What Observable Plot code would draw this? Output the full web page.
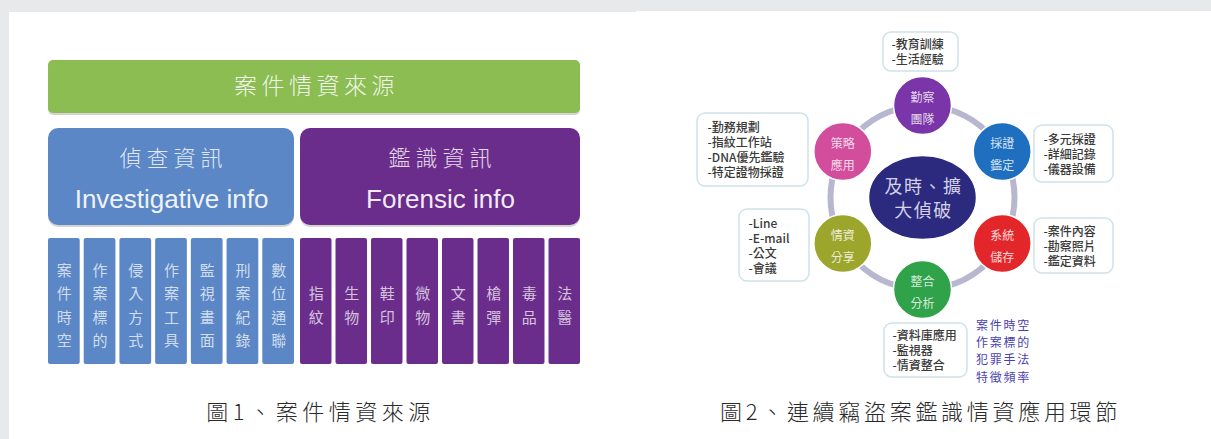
<!DOCTYPE html>
<html><head><meta charset="utf-8">
<script src="https://cdn.jsdelivr.net/npm/d3@7"></script>
<script src="https://cdn.jsdelivr.net/npm/@observablehq/plot@0.6"></script>
<style>
html,body{margin:0;padding:0;background:#e8e9eb;}
#chart svg{display:block;}
</style></head>
<body><div id="chart"></div>
<script>
// ---------- data ----------
const topTitle = ["案件情資來源"];
const groupZh = ["偵查資訊", "鑑識資訊"];
const groupEn = ["Investigative info", "Forensic info"];
const invItems = ["案件時空","作案標的","侵入方式","作案工具","監視畫面","刑案紀錄","數位通聯"];
const forItems = ["指紋","生物","鞋印","微物","文書","槍彈","毒品","法醫"];
const captions = ["圖1、案件情資來源", "圖2、連續竊盜案鑑識情資應用環節"];
const centerText = ["及時、擴\n大偵破"];
const nodes = ["勤察\n團隊","採證\n鑑定","系統\n儲存","整合\n分析","情資\n分享","策略\n應用"];
const nodeNotes = [
  ["-教育訓練","-生活經驗"],
  ["-多元採證","-詳細記錄","-儀器設備"],
  ["-案件內容","-勘察照片","-鑑定資料"],
  ["-資料庫應用","-監視器","-情資整合"],
  ["-Line","-E-mail","-公文","-會議"],
  ["-勤務規劃","-指紋工作站","-DNA優先鑑驗","-特定證物採證"]
];
const sideNote = ["案件時空","作案標的","犯罪手法","特徵頻率"];

// ---------- styles ----------
const groupColors = ["#5b87c6", "#6b2d8c"];
const nodeColors = ["#7a35a8","#1e6fc0","#e3262a","#2fa24a","#9ca52c","#d24d9c"];

// ---------- layout (pixel space) ----------
const W = 1211, H = 439;
const L = {x1: 48, x2: 580, gTop: 60, gBot: 113, bTop: 128, bBot: 225, split: 294, gap: 6, cTop: 238, cBot: 364};
const ring = {cx: 922, cy: 197, r: 92};
// note boxes: [x1, x2, y1, y2, textX]
const noteBoxes = [
  [883, 958, 32, 71, 891],
  [1034, 1113, 125, 182, 1043],
  [1034, 1113, 218, 273, 1043],
  [884, 967, 323, 377, 892],
  [739, 809, 209, 281, 748],
  [697, 808, 113, 186, 707]
];

// derived tables
const groupBoxes = [
  {name: groupZh[0], en: groupEn[0], x1: L.x1, x2: L.split, c: groupColors[0]},
  {name: groupZh[1], en: groupEn[1], x1: L.split + L.gap, x2: L.x2, c: groupColors[1]}
];
function columns(items, x0, x1, color) {
  const gap = 4, n = items.length;
  const pitch = (x1 - x0 + gap) / n;
  return items.map((t, i) => ({t: t.split("").join("\n"), x1: x0 + i * pitch, x2: x0 + i * pitch + pitch - gap, c: color}));
}
const cols = [...columns(invItems, L.x1, L.split, groupColors[0]), ...columns(forItems, L.split + L.gap, L.x2, groupColors[1])];
const nodeData = nodes.map((t, i) => {
  const a = (-90 + i * 60) * Math.PI / 180;
  return {t, x: ring.cx + ring.r * Math.cos(a), y: ring.cy + ring.r * Math.sin(a), c: nodeColors[i]};
});
const boxData = nodeNotes.map((lines, i) => {
  const [x1, x2, y1, y2, tx] = noteBoxes[i];
  return {t: lines.join("\n"), x1, x2, y1, y2, tx, ty: (y1 + y2) / 2};
});

const ellipse = {
  draw(ctx, size) {
    const rx = Math.sqrt(size / Math.PI), ry = rx * 0.78, k = 0.5523;
    ctx.moveTo(rx, 0);
    ctx.bezierCurveTo(rx, ry * k, rx * k, ry, 0, ry);
    ctx.bezierCurveTo(-rx * k, ry, -rx, ry * k, -rx, 0);
    ctx.bezierCurveTo(-rx, -ry * k, -rx * k, -ry, 0, -ry);
    ctx.bezierCurveTo(rx * k, -ry, rx, -ry * k, rx, 0);
    ctx.closePath();
  }
};

const zh = "Noto Sans CJK TC";
const chart = Plot.plot({
  width: W, height: H, margin: 0,
  style: {fontFamily: zh, background: "#e8e9eb"},
  x: {domain: [0, W], range: [0, W], axis: null},
  y: {domain: [0, H], range: [0, H], axis: null},
  marks: [
    Plot.rect([{x1: 9, x2: 636, y1: 12, y2: H}, {x1: 636, x2: W, y1: 11, y2: H}], {x1: "x1", x2: "x2", y1: "y1", y2: "y2", fill: "white"}),
    Plot.rect(topTitle, {x1: L.x1, x2: L.x2, y1: L.gTop, y2: L.gBot, fill: "#d3d3d3", rx: 5, dy: 2}),
    Plot.rect(topTitle, {x1: L.x1, x2: L.x2, y1: L.gTop, y2: L.gBot, fill: "#8bbd52", rx: 5}),
    Plot.text(topTitle, {x: (L.x1 + L.x2) / 2 + 2, y: (L.gTop + L.gBot) / 2, text: d => d, fontSize: 23, fontWeight: 300, fill: "rgba(255,255,255,0.88)"}),
    Plot.rect(groupBoxes, {x1: "x1", x2: "x2", y1: L.bTop, y2: L.bBot, fill: "#d3d3d3", rx: 10, dy: 2}),
    Plot.rect(groupBoxes, {x1: "x1", x2: "x2", y1: L.bTop, y2: L.bBot, fill: "c", rx: 10}),
    Plot.text(groupBoxes, {x: d => (d.x1 + d.x2) / 2 + 2, y: 158, text: "name", fontSize: 22, fontWeight: 300, fill: "rgba(255,255,255,0.82)"}),
    Plot.text(groupBoxes, {x: d => (d.x1 + d.x2) / 2, y: 199, text: "en", fontSize: 26, fontFamily: "Liberation Sans", fill: "rgba(255,255,255,0.92)"}),
    Plot.rect(cols, {x1: "x1", x2: "x2", y1: L.cTop, y2: L.cBot, fill: "c", rx: 2}),
    Plot.text(cols, {x: d => (d.x1 + d.x2) / 2, y: (L.cTop + L.cBot) / 2 + 2, text: "t", fontSize: 15, lineHeight: 1.55, lineAnchor: "middle", fill: "rgba(255,255,255,0.72)"}),
    Plot.dot([ring], {x: "cx", y: "cy", r: ring.r, stroke: "#b7b7d0", strokeWidth: 6, fill: "none"}),
    Plot.dot([ring], {x: "cx", y: "cy", r: 54, symbol: ellipse, fill: "#2c2a7e", stroke: "white", strokeWidth: 1.5}),
    Plot.text(centerText, {x: ring.cx + 1, y: ring.cy, text: d => d, fontSize: 18, lineHeight: 1.35, lineAnchor: "middle", fill: "rgba(235,235,250,0.88)"}),
    Plot.dot(nodeData, {x: "x", y: "y", r: 29, fill: "c", stroke: "white", strokeWidth: 1.5}),
    Plot.text(nodeData, {x: "x", y: "y", text: "t", fontSize: 12, lineHeight: 1.85, lineAnchor: "middle", fill: "rgba(255,255,255,0.82)"}),
    Plot.rect(boxData, {x1: "x1", x2: "x2", y1: "y1", y2: "y2", rx: 8, fill: "white", stroke: "#cfe2ea", strokeWidth: 1.5}),
    Plot.text(boxData, {x: "tx", y: "ty", text: "t", textAnchor: "start", lineAnchor: "middle", fontSize: 12, fontWeight: 500, lineHeight: 1.25, fill: "#3a3a3a"}),
    Plot.text([sideNote.join("\n")], {x: 1003, y: 350, text: d => d, fontSize: 12, lineHeight: 1.42, lineAnchor: "middle", fill: "#4a3fb0"}),
    Plot.text(captions, {x: (d, i) => [320, 920][i], y: 412, text: d => d, fontSize: 22, fontWeight: 300, fill: "#2a2a2a"})
  ]
});
// letter spacing applied after render, matched by text content
const spacing = new Map([
  [captions[0], 4.5], [captions[1], 3.7],
  [topTitle[0], 4.5], [groupZh[0], 5], [groupZh[1], 5],
  [sideNote.join(""), 1.8], [centerText[0].replace("\n", ""), 1.5]
]);
d3.select(chart).selectAll("text").each(function () {
  const s = spacing.get(this.textContent);
  if (s != null) this.style.letterSpacing = s + "px";
});
document.getElementById("chart").appendChild(chart);
</script></body></html>
